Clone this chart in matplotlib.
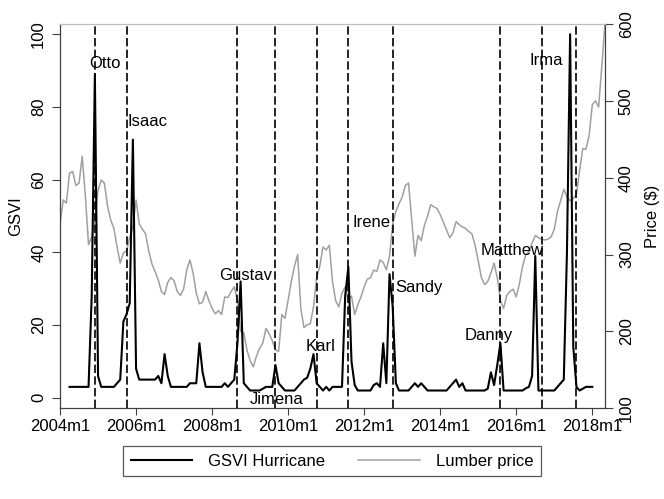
import numpy as np
import matplotlib.pyplot as plt

plt.rcParams['font.family'] = ['Liberation Sans', 'DejaVu Sans']

# months counted from 2004m1 (= 0)
tick_months = [0, 24, 48, 72, 96, 120, 144, 168]
tick_labels = ["2004m1", "2006m1", "2008m1", "2010m1", "2012m1", "2014m1", "2016m1", "2018m1"]

# Google search volume index for "hurricane", 2004m4 .. 2018m1
gsvi_start = 3
gsvi = [3, 3, 3, 3, 3, 3, 3, 28, 89, 6,            # 2004m4 - 2005m1
        3, 3, 3, 3, 3, 4, 5, 21, 23, 26,           # 2005m2 - 2005m11
        71, 8, 5, 5, 5, 5, 5, 5, 6, 4,             # 2005m12 - 2006m9
        12, 6, 3, 3, 3, 3, 3, 3, 4, 4,             # 2006m10 - 2007m7
        4, 15, 7, 3, 3, 3, 3, 3, 3, 4,             # 2007m8 - 2008m5
        3, 4, 5, 15, 32, 4, 3, 2, 2, 2,            # 2008m6 - 2009m3
        2, 2.5, 3, 3, 3, 9, 4, 3, 2, 2,            # 2009m4 - 2010m1
        2, 2, 3, 4, 5, 5.5, 8, 12, 4, 3,           # 2010m2 - 2010m11
        2, 3, 2, 3, 3, 3, 3, 28, 36, 10,           # 2010m12 - 2011m9
        3.5, 2, 2, 2, 2, 2, 3.5, 4, 3, 15,         # 2011m10 - 2012m7
        4, 34, 25, 4, 2, 2, 2, 2, 3, 4,            # 2012m8 - 2013m5
        3, 4, 3, 2, 2, 2, 2, 2, 2, 2,              # 2013m6 - 2014m3
        3, 4, 5, 3, 4, 2, 2, 2, 2, 2,              # 2014m4 - 2015m1
        2, 2, 2.5, 7, 3.5, 9, 15, 2, 2, 2,         # 2015m2 - 2015m11
        2, 2, 2, 2, 2.6, 3, 6, 39, 2, 2,           # 2015m12 - 2016m9
        2, 2, 2, 2, 3, 4, 5, 40, 100, 14,          # 2016m10 - 2017m7
        3, 2, 2.5, 3, 3, 3]                        # 2017m8 - 2018m1

# lumber price in $, 2004m1 .. 2018m5
lumber = [340, 371, 367, 406, 408, 390, 393, 428, 376, 313,
          323, 345, 384, 397, 393, 363, 345, 334, 310, 289,
          302, 305, 323, 336, 371, 340, 333, 327, 305, 288,
          278, 267, 252, 248, 264, 270, 266, 252, 247, 255,
          280, 293, 276, 250, 236, 238, 252, 240, 230, 223,
          227, 222, 245, 244, 252, 258, 240, 200, 198, 176,
          162, 154, 168, 178, 185, 204, 197, 188, 176, 174,
          222, 217, 241, 265, 285, 300, 230, 205, 209, 210,
          232, 270, 285, 310, 306, 312, 265, 240, 232, 250,
          258, 242, 246, 222, 235, 245, 258, 268, 270, 280,
          278, 293, 290, 280, 298, 340, 356, 366, 375, 390,
          393, 345, 298, 325, 318, 338, 350, 365, 362, 360,
          352, 342, 332, 322, 328, 343, 339, 336, 334, 330,
          327, 312, 292, 270, 261, 265, 276, 289, 270, 240,
          230, 247, 252, 255, 245, 262, 285, 300, 304, 315,
          325, 322, 320, 319, 320, 323, 333, 356, 370, 385,
          375, 370, 373, 378, 410, 438, 437, 455, 495, 500,
          492, 545, 600]

storm_months = [11, 21, 56, 68, 81, 91, 105, 139, 152, 163]
storm_names = ["Otto", "Isaac", "Gustav", "Jimena", "Karl",
               "Irene", "Sandy", "Danny", "Matthew", "Irma"]

gsvi_x = np.arange(gsvi_start, gsvi_start + len(gsvi))
lumber_x = np.arange(len(lumber))

fig = plt.figure(figsize=(6.64, 4.99), dpi=100)
ax = fig.add_axes([0.0904, 0.1817, 0.8207, 0.7702])
ax2 = ax.twinx()
ax.set_zorder(ax2.get_zorder() + 1)
ax.patch.set_visible(False)

for m in storm_months:
    ax.axvline(m, color='black', lw=1.2, ls=(0, (5, 2)), zorder=1)

l2, = ax2.plot(lumber_x, lumber, color='#a0a0a0', lw=1.1, label='Lumber price')
l1, = ax.plot(gsvi_x, gsvi, color='black', lw=1.5, label='GSVI Hurricane', zorder=3)

# storm labels (month, GSVI level)
label_pos = [(14.1, 92.0), (27.7, 75.9), (58.5, 33.5), (68.3, -0.6), (82.2, 14.0),
             (98.2, 48.2), (113.2, 30.3), (135.4, 17.1), (142.7, 40.6), (153.6, 92.7)]
for name, (lx, ly) in zip(storm_names, label_pos):
    ax.text(lx, ly, name, ha='center', va='center', fontsize=12, zorder=4)

ax.set_xlim(0, 172)
ax.set_ylim(-2.9, 102.8)
ax2.set_ylim(100, 600)

ax.set_xticks(tick_months)
ax.set_xticklabels(tick_labels)
ax.set_yticks([0, 20, 40, 60, 80, 100])
ax2.set_yticks([100, 200, 300, 400, 500, 600])

spine_col = '#404040'
ax.tick_params(axis='x', length=5, width=0.8, color=spine_col, labelsize=12, pad=3)
ax.tick_params(axis='y', length=6, width=0.8, color=spine_col, labelsize=12, pad=4,
               labelrotation=90)
ax2.tick_params(axis='y', length=6, width=0.8, color=spine_col, labelsize=12, pad=4,
                labelrotation=90)
for lab in ax.get_yticklabels() + ax2.get_yticklabels():
    lab.set_va('center')

ax.set_ylabel('GSVI', fontsize=12, labelpad=6)
ax2.set_ylabel('Price ($)', fontsize=12, labelpad=8, rotation=90)

for s in ['left', 'bottom']:
    ax.spines[s].set_color(spine_col)
    ax.spines[s].set_linewidth(0.9)
ax.spines['right'].set_visible(False)
ax.spines['top'].set_color('#b8c0c0')
ax.spines['top'].set_linewidth(0.9)
for s in ['left', 'bottom', 'top']:
    ax2.spines[s].set_visible(False)
ax2.spines['right'].set_color(spine_col)
ax2.spines['right'].set_linewidth(0.9)

leg = fig.legend(handles=[l1, l2], loc='center', bbox_to_anchor=(0.5, 0.076), ncol=2,
                 fontsize=12, frameon=True, fancybox=False, handlelength=3.7,
                 handletextpad=0.95, columnspacing=2.0, borderpad=0.45)
leg.get_frame().set_edgecolor('#303030')
leg.get_frame().set_linewidth(0.9)

fig.savefig('out.png', dpi=100)
